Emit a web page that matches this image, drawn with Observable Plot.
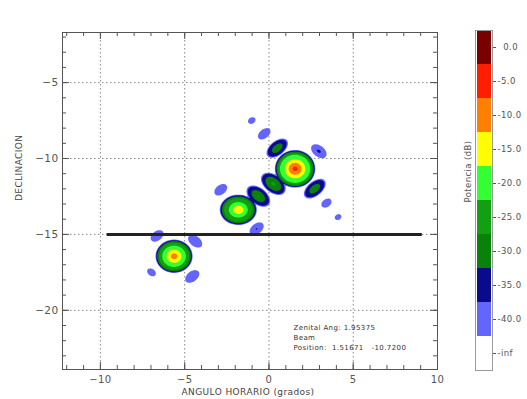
<!DOCTYPE html>
<html><head><meta charset="utf-8">
<script src="https://cdn.jsdelivr.net/npm/d3@7"></script>
<script src="https://cdn.jsdelivr.net/npm/@observablehq/plot@0.6"></script>
<style>
body{margin:0;background:#fff;}
#wrap{position:relative;width:527px;height:399px;overflow:hidden;font-family:"DejaVu Sans",sans-serif;background:#fff;}
#title{position:absolute;left:0;top:13px;width:485px;text-align:center;font-size:11px;letter-spacing:1.3px;color:#444;white-space:nowrap;}
#main,#cbar{position:absolute;top:0;}
#main{left:0}
#cbar{left:460px}
svg text{letter-spacing:0.4px}
</style></head><body>
<div id="wrap"><div id="title">PATRON DE RADIACION DE LA ANTENA DE JICAMARCA</div><div id="main"></div><div id="cbar"></div></div>
<script>
// ---- data ----
const xDomain = [-12.25, 10];
const yDomain = [-23.9, -1.7];
const majorX = [-10, -5, 0, 5, 10];
const majorY = [-5, -10, -15, -20];
const minorX = d3.range(-12, 11);
const minorY = d3.range(-23, -1);
const gridX = [-10, -5, 0, 5];
const gridY = [-5, -10, -15, -20];

// lobes of the radiation pattern (centre, peak dB, semi-axes, orientation in degrees)
const lobeX     = [1.55, -1.82, -5.63, 0.49, 2.72, 0.26, -0.63, 2.96, -0.28, -1.02, 3.41, 4.10, -2.86, -0.73, -6.64, -4.38, -6.97, -4.55];
const lobeY     = [-10.68, -13.38, -16.44, -9.32, -11.99, -11.67, -12.48, -9.52, -8.37, -7.50, -12.94, -13.86, -12.06, -14.63, -15.10, -15.45, -17.50, -17.77];
const lobePeak  = [-2, -9.5, -6, -25, -25, -23, -24, -34, -36, -38.5, -37.5, -39, -36.5, -34.5, -36, -35, -37.5, -35.5];
const lobeA     = [1.2, 1.1, 1.1, 0.78, 0.8, 0.88, 0.85, 0.55, 0.45, 0.25, 0.35, 0.22, 0.45, 0.5, 0.45, 0.5, 0.3, 0.5];
const lobeB     = [1.24, 1.0, 1.1, 0.45, 0.45, 0.55, 0.52, 0.35, 0.28, 0.2, 0.25, 0.18, 0.3, 0.32, 0.3, 0.32, 0.22, 0.32];
const lobeAngle = [0, 0, 0, 45, 45, -45, -45, -45, 45, 45, 45, 45, 45, 45, 45, -45, -45, 45];
// radial fall-off of a lobe read from the rings of the main beam (distance fraction -> fraction of drop to -40 dB)
const profileD = [0, 0.32, 0.5, 0.75, 0.93, 1];
const profileG = [0, 0.21, 0.34, 0.47, 0.74, 1];

const thresholds = [-40, -35, -30, -25, -20, -15, -10, -5, 0];
const contourColors = ["#6464ff", "#0a0a8c", "#0a820a", "#12a012", "#33ff33", "#ffff00", "#ff8000", "#ff1e00", "#7a0000"];

const cbLabels = ["\u20070.0", "-5.0", "-10.0", "-15.0", "-20.0", "-25.0", "-30.0", "-35.0", "-40.0", "-inf"];
const cbColors = ["#7a0000", "#ff1e00", "#ff8000", "#ffff00", "#33ff33", "#12a012", "#0a820a", "#0a0a8c", "#6464ff", "#ffffff"];

const beamY = [-15];
const beamX = [-9.6, 9.1];
const annotation = ["Zenital Ang: 1.95375", "Beam", "Position:  1.51671   -10.7200"];

// ---- field from lobes ----
const deg = Math.PI / 180;
const profile = d3.scaleLinear().domain(profileD).range(profileG);
function level(x, y) {
  let v = -100;
  for (let k = 0; k < lobeX.length; k++) {
    const dx = x - lobeX[k], dy = y - lobeY[k];
    const t = lobeAngle[k] * deg, c = Math.cos(t), s = Math.sin(t);
    const u = (dx * c + dy * s) / lobeA[k], w = (-dx * s + dy * c) / lobeB[k];
    const d = Math.sqrt(u * u + w * w);
    const val = lobePeak[k] - (lobePeak[k] + 40) * profile(d);
    if (val > v) v = val;
  }
  return v;
}

const W = 527, H = 399, mL = 62, mR = 90, mT = 32, mB = 30;
const fw = W - mL - mR, fh = H - mT - mB;
const C = "#555";
const main = Plot.plot({
  width: W, height: H,
  marginLeft: mL, marginRight: mR, marginTop: mT, marginBottom: mB,
  style: {fontFamily: "DejaVu Sans", fontSize: "10px", color: "#444", background: "white"},
  x: {domain: xDomain},
  y: {domain: yDomain},
  color: {type: "ordinal", domain: thresholds, range: contourColors},
  marks: [
    Plot.ruleX(gridX, {stroke: "#888", strokeDasharray: "1.5,2.5"}),
    Plot.ruleY(gridY, {stroke: "#888", strokeDasharray: "1.5,2.5"}),
    Plot.contour({fill: level, x1: xDomain[0], x2: xDomain[1], y1: yDomain[0], y2: yDomain[1], thresholds, pixelSize: 1, stroke: "none"}),
    Plot.ruleY(beamY, {x1: beamX[0], x2: beamX[1], stroke: "#222", strokeWidth: 3}),
    // inward tick marks on all four sides
    Plot.tickX(minorX, {x: d => d, insetTop: fh - 4, stroke: C}),
    Plot.tickX(minorX, {x: d => d, insetBottom: fh - 4, stroke: C}),
    Plot.tickX(majorX, {x: d => d, insetTop: fh - 7, stroke: C}),
    Plot.tickX(majorX, {x: d => d, insetBottom: fh - 7, stroke: C}),
    Plot.tickY(minorY, {y: d => d, insetRight: fw - 4, stroke: C}),
    Plot.tickY(minorY, {y: d => d, insetLeft: fw - 4, stroke: C}),
    Plot.tickY(majorY, {y: d => d, insetRight: fw - 7, stroke: C}),
    Plot.tickY(majorY, {y: d => d, insetLeft: fw - 7, stroke: C}),
    // tick labels
    Plot.axisX(majorX, {anchor: "bottom", tickSize: 0, tickPadding: 6, fontSize: 10, label: null, color: C}),
    Plot.axisY(majorY, {anchor: "left", tickSize: 0, tickPadding: 4, fontSize: 10.5, label: null, color: C}),
    Plot.frame({stroke: "#555"}),
    Plot.text(["DECLINACION"], {frameAnchor: "left", rotate: -90, dx: -43, fontSize: 9, fill: "#444"}),
    Plot.text(["ANGULO HORARIO (grados)"], {frameAnchor: "bottom", dy: 25, dx: -2, fontSize: 9, fill: "#444"}),
    Plot.text([annotation.join("\n")], {frameAnchor: "bottom-right", dx: -144, dy: -46, textAnchor: "start", lineAnchor: "top", lineHeight: 1.4, fontSize: 7, fill: "#333"})
  ]
});
document.getElementById("main").appendChild(main);

const cbar = Plot.plot({
  width: 67, height: 399,
  marginLeft: 15, marginRight: 35, marginTop: 30, marginBottom: 29,
  style: {fontFamily: "DejaVu Sans", fontSize: "8.5px", color: "#555", background: "transparent"},
  x: {axis: null},
  y: {type: "band", domain: cbLabels, padding: 0},
  color: {type: "identity"},
  marks: [
    Plot.cell(cbLabels, {x: () => "bar", y: d => d, fill: (d, i) => cbColors[i]}),
    Plot.frame({stroke: "#999"}),
    Plot.axisY({anchor: "right", tickSize: 3, tickPadding: 2, label: null, textAnchor: "start", color: "#555"}),
    Plot.text(["Potencia (dB)"], {frameAnchor: "left", rotate: -90, dx: -7, dy: 2, fontSize: 8.5, fill: "#555"})
  ]
});
document.getElementById("cbar").appendChild(cbar);
</script>
</body></html>
